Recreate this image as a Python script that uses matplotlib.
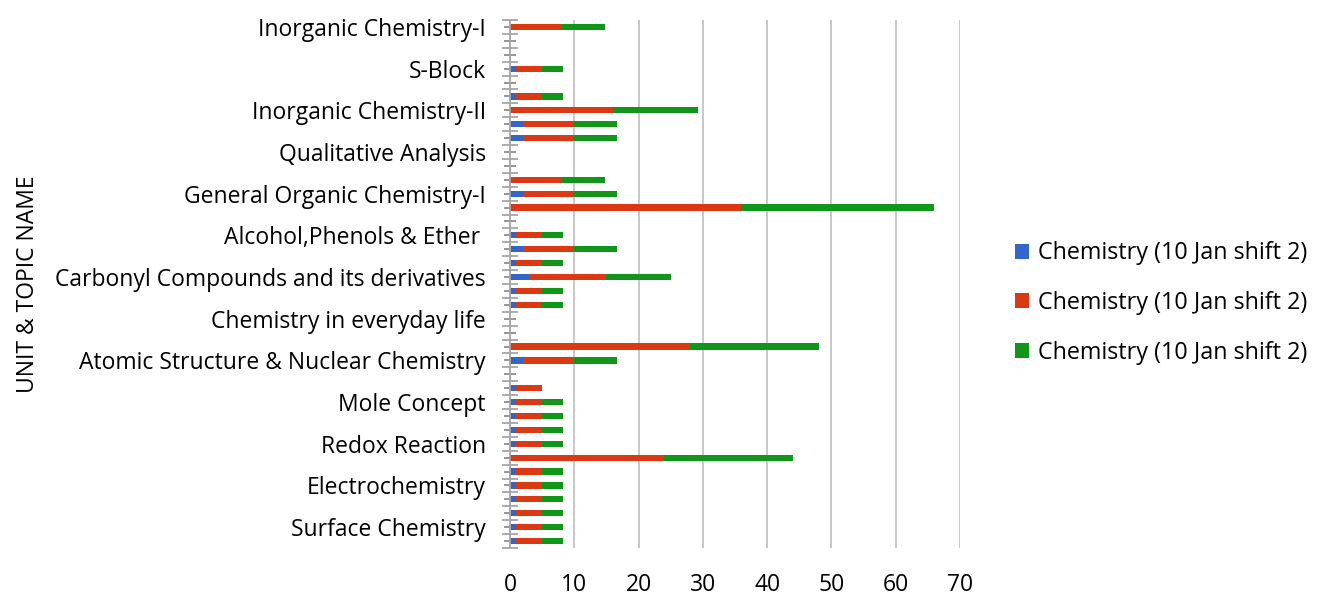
import matplotlib
matplotlib.use("Agg")
import matplotlib.pyplot as plt
from matplotlib.patches import Patch
import numpy as np

plt.rcParams['font.family'] = ['Open Sans', 'DejaVu Sans']

# 38 category rows, top to bottom (only every third row is labelled in the reference)
categories = [
    "Inorganic Chemistry-I", "", "",
    "S-Block", "", "",
    "Inorganic Chemistry-II", "", "",
    "Qualitative Analysis", "", "",
    "General Organic Chemistry-I", "", "",
    "Alcohol,Phenols & Ether ", "", "",
    "Carbonyl Compounds and its derivatives", "", "",
    "Chemistry in everyday life", "", "",
    "Atomic Structure & Nuclear Chemistry", "", "",
    "Mole Concept", "", "",
    "Redox Reaction", "", "",
    "Electrochemistry", "", "",
    "Surface Chemistry", "",
]

series_blue = [0, 0, 0, 1, 0, 1, 0, 2, 2, 0, 0, 0, 2, 0, 0, 1, 2, 1, 3, 1,
               1, 0, 0, 0, 2, 0, 1, 1, 1, 1, 1, 0, 1, 1, 1, 1, 1, 1]
series_red = [8, 0, 0, 4, 0, 4, 16, 8, 8, 0, 0, 8, 8, 36, 0, 4, 8, 4, 12, 4,
              4, 0, 0, 28, 8, 0, 4, 4, 4, 4, 4, 24, 4, 4, 4, 4, 4, 4]
series_green = [6.7, 0, 0, 3.3, 0, 3.3, 13.3, 6.7, 6.7, 0, 0, 6.7, 6.7, 30, 0, 3.3, 6.7, 3.3, 10, 3.3,
                3.3, 0, 0, 20, 6.7, 0, 0, 3.3, 3.3, 3.3, 3.3, 20, 3.3, 3.3, 3.3, 3.3, 3.3, 3.3]
series_names = ["Chemistry (10 Jan shift 2)"] * 3
colors = ["#3366CC", "#DC3912", "#109618"]

x_ticks = [0, 10, 20, 30, 40, 50, 60, 70]

fig = plt.figure(figsize=(13.23, 6.04), dpi=100)
ax = fig.add_axes([510 / 1323, 1 - 548 / 604, 450 / 1323, 528 / 604])

y = np.arange(len(categories))
blue = np.array(series_blue, dtype=float)
red = np.array(series_red, dtype=float)
green = np.array(series_green, dtype=float)
h = 0.45
ax.barh(y, blue, height=h, color=colors[0], linewidth=0, zorder=2)
ax.barh(y, red, left=blue, height=h, color=colors[1], linewidth=0, zorder=2)
ax.barh(y, green, left=blue + red, height=h, color=colors[2], linewidth=0, zorder=2)

ax.set_ylim(len(categories) - 0.5, -0.5)
ax.set_xlim(0, 70)
ax.set_xticks(x_ticks)
ax.set_xticklabels([str(t) for t in x_ticks], fontsize=16.5)
ax.tick_params(axis='x', length=0, pad=18)
ax.xaxis.grid(True, color="#BFBFBF", linewidth=1.2, zorder=0)
ax.set_axisbelow(True)

# boundaries (major) and row centres (minor)
ax.set_yticks(np.arange(-0.5, len(categories), 1.0))
ax.set_yticklabels([])
ax.set_yticks(y, minor=True)
ax.set_yticklabels(categories, minor=True, fontsize=16.5)
ax.tick_params(axis='y', which='major', direction='inout', length=11, color="#A6A6A6", width=1.3)
ax.tick_params(axis='y', which='minor', direction='inout', length=9, color="#8C8C8C", width=1.3, pad=13)

for s in ['top', 'right', 'bottom']:
    ax.spines[s].set_visible(False)
ax.spines['left'].set_color("#A6A6A6")
ax.spines['left'].set_linewidth(1.3)
ax.spines['left'].set_zorder(3)

fig.text(28 / 1323, 1 - 284 / 604, "UNIT & TOPIC NAME", rotation=90, ha='center', va='center', fontsize=16.5)

handles = [Patch(facecolor=c, edgecolor='none') for c in colors]
fig.legend(handles, series_names, loc='center left', bbox_to_anchor=(1015 / 1323, 1 - 303 / 604),
           frameon=False, fontsize=16.8, handlelength=0.62, handleheight=0.62, handletextpad=0.35,
           labelspacing=1.1, borderpad=0, borderaxespad=0)

fig.savefig("out.png", dpi=100)
